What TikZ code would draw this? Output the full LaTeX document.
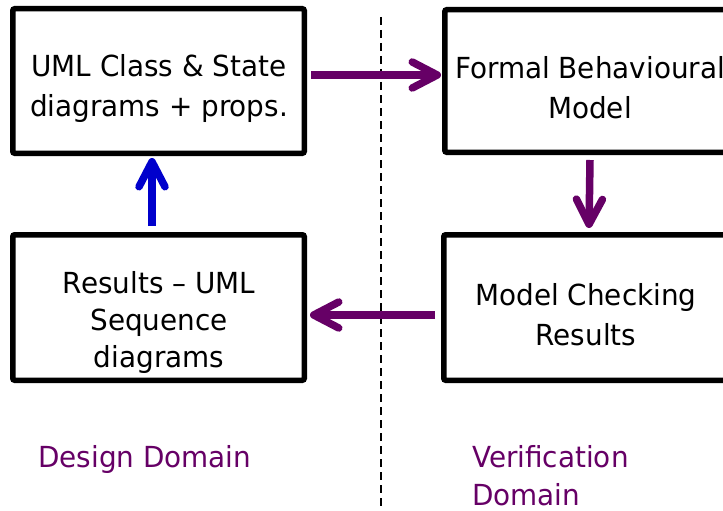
\documentclass[tikz,border=0pt]{standalone}
\usepackage{fontspec}
\setmainfont{DejaVu Sans}[FakeStretch=0.96]
\usetikzlibrary{arrows.meta}
\definecolor{flowpurple}{HTML}{660066}
\definecolor{flowblue}{HTML}{0000CC}
\begin{document}
\begin{tikzpicture}[x=1pt,y=-1pt,
  box/.style={draw=black, line width=5.5pt, rounded corners=2pt, fill=white,
    inner sep=0pt, minimum width=291.5pt, minimum height=144.5pt},
  boxtext/.style={font=\fontsize{29}{40}\selectfont, align=center,
    anchor=base, inner sep=0pt},
  domainlabel/.style={font=\fontsize{29}{38}\selectfont, text=flowpurple,
    align=left, anchor=base west, inner sep=0pt},
  flow/.style={line width=7.5pt, line cap=butt,
    -{Straight Barb[length=25pt,width=26pt,round]}},
  divider/.style={line width=2pt, dash pattern=on 8pt off 5pt}
]
\useasboundingbox (0,0) rectangle (723,511);

% domain divider
\coordinate (divtop) at (381,17);
\coordinate (divbot) at (381,511);
\draw[divider] (divtop) -- (divbot);

% boxes
\node[box] (uml) at (158.5,81) {};
\node[box, minimum width=290.5pt, minimum height=142.5pt] (model) at (590,81) {};
\node[box, minimum width=290.5pt, minimum height=145.5pt] (mc) at (589,307.5) {};
\node[box, minimum height=145.5pt] (res) at (158.5,307.5) {};

% box captions (placed by the baseline of their last line)
\node[boxtext] (umlT) at (159,117) {UML Class \& State\\diagrams + props.};
\node[boxtext] (modelT) at (590,118) {Formal Behavioural\\Model};
\node[boxtext] (mcT) at (586,345) {Model Checking\\Results};
\node[boxtext, font=\fontsize{29}{37}\selectfont] (resT) at (159,367)
  {Results -- UML\\Sequence\\diagrams};

% flow between the boxes
\draw[flow, flowpurple] ([shift={(4,-6)}]uml.east) -- ([shift={(-1,-6)}]model.west);
\draw[flow, flowpurple] ([yshift=-5pt]model.south) -- ([yshift=4pt]mc.north);
\draw[flow, flowpurple] ([shift={(-6,7.5)}]mc.west) -- ([shift={(3,7.5)}]res.east);
\draw[flow, flowblue] ([shift={(-6.5,-6)}]res.north) -- ([shift={(-6.5,2)}]uml.south);

% domain labels
\node[domainlabel] (design) at (38,467) {Design Domain};
\node[domainlabel] (verif) at (472,505) {Verification\\Domain};
\end{tikzpicture}
\end{document}
